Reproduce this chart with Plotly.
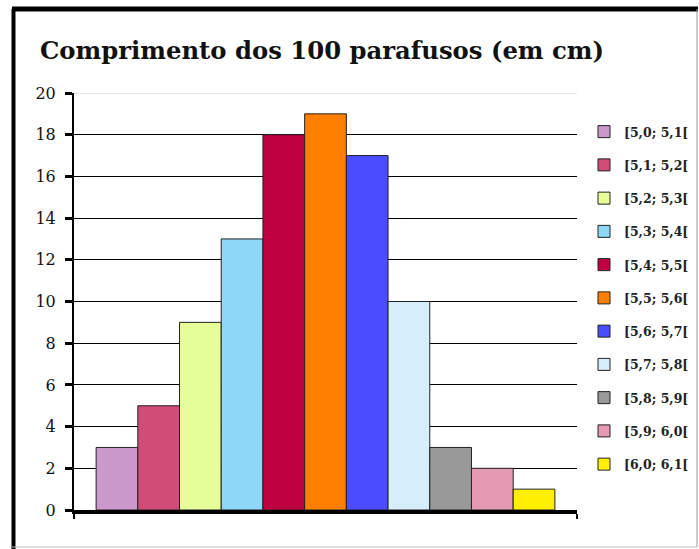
import plotly.graph_objects as go

classes = ["[5,0; 5,1[", "[5,1; 5,2[", "[5,2; 5,3[", "[5,3; 5,4[", "[5,4; 5,5[",
           "[5,5; 5,6[", "[5,6; 5,7[", "[5,7; 5,8[", "[5,8; 5,9[", "[5,9; 6,0[",
           "[6,0; 6,1["]
counts = [3, 5, 9, 13, 18, 19, 17, 10, 3, 2, 1]
colors = ["#CC99CC", "#D14D78", "#E6FF99", "#8CD8F6", "#BF0041", "#FF8000",
          "#4B4BFF", "#D6EEF9", "#999999", "#E699B3", "#FFEF00"]
y_ticks = [0, 2, 4, 6, 8, 10, 12, 14, 16, 18, 20]

W, H = 699, 549
L, R, T, B = 74, 122, 93, 39
pw, ph = W - L - R, H - T - B
x_lo, x_hi = -1.03, len(counts) - 1 + 1.03

def px_x(p):
    return (p - L) / pw

def px_y(p):
    return (H - B - p) / ph

fig = go.Figure()
for i, (c, v, col) in enumerate(zip(classes, counts, colors)):
    fig.add_trace(go.Bar(
        x=[i], y=[v], width=1, name="<b>" + c + "</b>", legendgroup=c,
        marker=dict(color=col, line=dict(color="#222222", width=1)),
    ))

fig.update_layout(
    width=W, height=H,
    margin=dict(l=L, r=R, t=T, b=B, autoexpand=False),
    paper_bgcolor="white", plot_bgcolor="white",
    barmode="overlay",
    title=dict(text="<b>Comprimento dos 100 parafusos (em cm)</b>",
               x=40 / W, xanchor="left", y=1 - 50 / H, yanchor="middle",
               font=dict(family="DejaVu Serif", size=24.3, color="#111111")),
    legend=dict(x=px_x(584), xanchor="left", y=px_y(117), yanchor="top",
                font=dict(family="DejaVu Serif", size=12.5, color="#222222"),
                traceorder="grouped", tracegroupgap=14, bgcolor="rgba(0,0,0,0)",
                itemwidth=30),
    xaxis=dict(range=[x_lo, x_hi], showgrid=False, zeroline=False,
               showline=True, linecolor="black", linewidth=4,
               tickvals=[x_lo, x_hi], ticktext=["", ""], ticks="outside",
               ticklen=5, tickwidth=2, tickcolor="black", fixedrange=True),
    yaxis=dict(range=[0, 20], tickvals=y_ticks, showgrid=True, gridcolor="black",
               gridwidth=1, zeroline=False, showline=True, linecolor="black",
               linewidth=2, ticks="outside", ticklen=7, tickwidth=3,
               tickcolor="black", ticklabelstandoff=6, fixedrange=True,
               tickfont=dict(family="DejaVu Serif", size=16, color="#111111")),
    showlegend=True,
    shapes=[
        dict(type="line", xref="x", yref="y", x0=x_lo, x1=x_hi, y0=20, y1=20,
             line=dict(color="#d0d0d0", width=1), layer="above"),
        dict(type="line", xref="paper", yref="paper", x0=px_x(12), x1=px_x(698),
             y0=px_y(9), y1=px_y(9), line=dict(color="black", width=5)),
        dict(type="line", xref="paper", yref="paper", x0=px_x(13.5), x1=px_x(13.5),
             y0=px_y(9), y1=px_y(549), line=dict(color="black", width=4)),
        dict(type="line", xref="paper", yref="paper", x0=px_x(697), x1=px_x(697),
             y0=px_y(9), y1=px_y(547), line=dict(color="#999999", width=1)),
        dict(type="line", xref="paper", yref="paper", x0=px_x(12), x1=px_x(697),
             y0=px_y(547), y1=px_y(547), line=dict(color="#bbbbbb", width=1)),
    ],
)

fig.write_html("out.html", config={"displayModeBar": False},
               post_script="document.body.style.margin='0';document.body.style.overflow='hidden';")
